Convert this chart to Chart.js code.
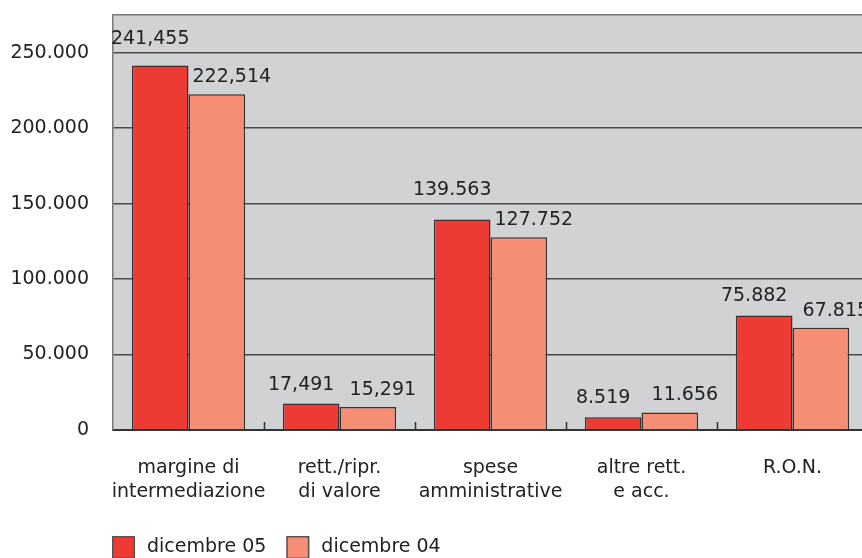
<!DOCTYPE html>
<html>
<head>
<meta charset="utf-8">
<script src="https://cdn.jsdelivr.net/npm/chart.js@4.4.1/dist/chart.umd.min.js"></script>
<style>
  html, body { margin: 0; padding: 0; background: #fff; overflow: hidden; }
  #wrap { width: 870px; height: 558px; }
</style>
</head>
<body>
<div id="wrap"><canvas id="grafico" width="870" height="558"></canvas></div>
<script>
// dati
const categorie = [
    ["margine di", "intermediazione"],
    ["rett./ripr.", "di valore"],
    ["spese", "amministrative"],
    ["altre rett.", "e acc."],
    ["R.O.N."]
];
const dicembre05 = [241455, 17491, 139563, 8519, 75882];
const dicembre04 = [222514, 15291, 127752, 11656, 67815];
const etichette05 = ["241,455", "17,491", "139.563", "8.519", "75.882"];
const etichette04 = ["222,514", "15,291", "127.752", "11.656", "67.815"];
const yTicks = [0, 50000, 100000, 150000, 200000, 250000];
const yMax = 275000;

const FONT = "'DejaVu Sans', sans-serif";

// sfondo grigio + tacche interne sull'asse x
const sfondo = {
    id: "sfondo",
    beforeDraw(chart) {
        const { ctx, chartArea: a } = chart;
        ctx.save();
        ctx.fillStyle = "#d1d2d4";
        ctx.fillRect(a.left, a.top, a.right - a.left, a.bottom - a.top);
        ctx.restore();
    },
    afterDatasetsDraw(chart) {
        const { ctx, chartArea: a, scales } = chart;
        const x = scales.x;
        ctx.save();
        ctx.strokeStyle = "#333";
        ctx.lineWidth = 1.5;
        for (let i = 1; i < categorie.length; i++) {
            const px = Math.round((x.getPixelForValue(i - 1) + x.getPixelForValue(i)) / 2) + 0.5;
            ctx.beginPath();
            ctx.moveTo(px, a.bottom);
            ctx.lineTo(px, a.bottom - 8);
            ctx.stroke();
        }
        ctx.restore();
    }
};

// etichette dei valori sopra le barre (spostate sopra la griglia se la toccano)
const valori = {
    id: "valori",
    afterDatasetsDraw(chart) {
        const { ctx, scales } = chart;
        const testi = [etichette05, etichette04];
        const spost = [-10, 15];
        const stacco = [14, 12];
        const righe = yTicks.map(v => scales.y.getPixelForValue(v));
        ctx.save();
        ctx.font = "19px " + FONT;
        ctx.fillStyle = "#222";
        ctx.textAlign = "center";
        ctx.textBaseline = "alphabetic";
        chart.data.datasets.forEach((ds, d) => {
            chart.getDatasetMeta(d).data.forEach((bar, i) => {
                let y = bar.y - stacco[d];
                righe.forEach(py => {
                    if (py >= y - 16 && py <= y + 2) y = py - 9;
                });
                ctx.fillText(testi[d][i], bar.x + spost[d], y);
            });
        });
        ctx.restore();
    }
};

// legenda sotto, allineata al bordo sinistro del grafico
const legenda = {
    id: "legenda",
    afterDraw(chart) {
        const { ctx, chartArea: a } = chart;
        ctx.save();
        ctx.font = "19px " + FONT;
        ctx.textBaseline = "middle";
        let x = a.left - 1;
        const top = chart.height - 22;
        chart.data.datasets.forEach(ds => {
            ctx.fillStyle = ds.backgroundColor;
            ctx.fillRect(x, top, 23, 23);
            ctx.strokeStyle = "#555";
            ctx.lineWidth = 1.5;
            ctx.strokeRect(x + 0.75, top + 0.75, 21.5, 21.5);
            ctx.fillStyle = "#222";
            ctx.fillText(ds.label, x + 35, top + 11);
            x += 35 + ctx.measureText(ds.label).width + 20;
        });
        ctx.restore();
    }
};

function formatta(v) {
    return String(v).replace(/\B(?=(\d{3})+(?!\d))/g, ".");
}

new Chart(document.getElementById("grafico"), {
    type: "bar",
    data: {
        labels: categorie,
        datasets: [{
            label: "dicembre 05",
            data: dicembre05,
            backgroundColor: "#ed3b33",
            borderColor: "#333",
            borderWidth: 1.5,
            borderSkipped: "bottom"
        }, {
            label: "dicembre 04",
            data: dicembre04,
            backgroundColor: "#f58e74",
            borderColor: "#333",
            borderWidth: 1.5,
            borderSkipped: "bottom"
        }]
    },
    options: {
        responsive: false,
        animation: false,
        layout: { padding: { left: 0, right: 2, top: 15, bottom: 40 } },
        datasets: { bar: { categoryPercentage: 0.75, barPercentage: 1 } },
        plugins: {
            tooltip: { enabled: false },
            legend: { display: false }
        },
        scales: {
            x: {
                grid: { display: false },
                border: { display: true, color: "#333", width: 2 },
                ticks: {
                    color: "#222",
                    padding: 18,
                    font: { family: FONT, size: 19, lineHeight: 1.25 },
                    maxRotation: 0,
                    autoSkip: false
                },
                afterFit(scale) { scale.height = 88; }
            },
            y: {
                min: 0,
                max: yMax,
                grid: {
                    color: c => (c.tick && c.tick.value === yMax ? "#777" : "#4a4a4a"),
                    lineWidth: 1.5,
                    drawTicks: true,
                    tickLength: 24,
                    tickColor: "rgba(0,0,0,0)"
                },
                border: { display: true, color: "#777", width: 1.5 },
                ticks: {
                    color: "#222",
                    padding: 0,
                    font: { family: FONT, size: 19 },
                    callback: v => (yTicks.includes(v) ? formatta(v) : "")
                },
                afterBuildTicks(scale) {
                    scale.ticks = yTicks.concat([yMax]).map(v => ({ value: v }));
                },
                afterFit(scale) { scale.width = 113; }
            }
        }
    },
    plugins: [sfondo, valori, legenda]
});
</script>
</body>
</html>
